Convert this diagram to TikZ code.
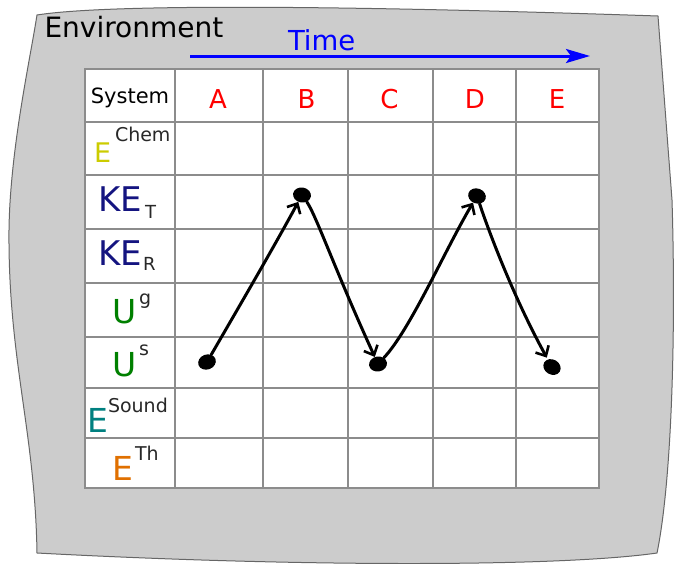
\documentclass[tikz,border=0pt]{standalone}
\usepackage{fontspec}
\setmainfont{DejaVu Sans}
\usetikzlibrary{arrows.meta,shapes.geometric}
\definecolor{envgray}{RGB}{204,204,204}
\definecolor{envline}{RGB}{102,102,102}
\definecolor{gridgray}{RGB}{140,140,140}
\definecolor{chemyellow}{RGB}{204,204,0}
\definecolor{kenavy}{RGB}{20,20,128}
\definecolor{ugreen}{RGB}{0,128,0}
\definecolor{soundteal}{RGB}{0,128,128}
\definecolor{thorange}{RGB}{224,112,0}
\definecolor{timeblue}{RGB}{0,0,255}
\definecolor{subgray}{RGB}{40,40,40}
\newcommand\setfs[1]{\fontsize{#1}{#1}\selectfont}
\begin{document}
\begin{tikzpicture}[x=1pt,y=-1pt,
  txt/.style={inner sep=0pt, outer sep=0pt, anchor=base west},
  ctxt/.style={inner sep=0pt, outer sep=0pt, anchor=base},
  gridline/.style={draw=gridgray, line width=1.2pt},
  dotnode/.style={ellipse, fill=black, minimum width=18pt, minimum height=15pt, inner sep=0pt},
  hand/.style={black, line width=3pt, line cap=round, line join=round, -{Straight Barb[length=8pt,width=15pt,line width=2.6pt]}},
  timearrow/.style={timeblue, line width=3pt, -{Stealth[length=24pt,width=14pt,inset=5pt]}}
]
\useasboundingbox (0,0) rectangle (674,563);
\fill[white] (0,0) rectangle (674,563);
% environment
\filldraw[fill=envgray, draw=envline, line width=1pt]
  (37,15) .. controls (100,5) and (300,4) .. (658,16)
  -- (672,200) .. controls (676,330) and (672,480) .. (657,553)
  .. controls (560,567) and (300,567) .. (37,553)
  .. controls (35,430) and (8,360) .. (9,230)
  .. controls (10,150) and (30,60) .. (37,15) -- cycle;
\node[txt] (env) at (44.5,37) {\setfs{28}Environment};
% time arrow
\node[txt, text=timeblue] (time) at (288,50) {\setfs{27.5}Time};
\coordinate (t0) at (190,56);
\coordinate (t1) at (590,56);
\draw[timearrow] (t0) -- (t1);
% table
\fill[white] (85,69) rectangle (599,488);
\foreach \yy in {122,175,229,283,337,388,438} \draw[gridline] (85,\yy) -- (599,\yy);
\foreach \xx in {175,263,348,433,516} \draw[gridline] (\xx,69) -- (\xx,488);
\draw[gridline] (85,69) rectangle (599,488);
% header
\node[ctxt] (sys) at (130,103) {\setfs{21}System};
\node[ctxt, text=red] (hA) at (218,108) {\setfs{26}A};
\node[ctxt, text=red] (hB) at (306.5,108) {\setfs{26}B};
\node[ctxt, text=red] (hC) at (389.5,108) {\setfs{26}C};
\node[ctxt, text=red] (hD) at (475,108) {\setfs{26}D};
\node[ctxt, text=red] (hE) at (557,108) {\setfs{26}E};
% row labels
\node[txt, text=chemyellow] (chemE) at (94,162) {\setfs{27}E};
\node[txt, text=subgray] (chemS) at (115,141) {\setfs{19}Chem};
\node[txt, text=kenavy] (ketE) at (98,211) {\setfs{34}KE};
\node[txt, text=subgray] (ketS) at (145,218) {\setfs{18}T};
\node[txt, text=kenavy] (kerE) at (98,265) {\setfs{34}KE};
\node[txt, text=subgray] (kerS) at (143,270) {\setfs{18}R};
\node[txt, text=ugreen] (ugE) at (112,323) {\setfs{33}U};
\node[txt, text=subgray] (ugS) at (139,304) {\setfs{19}g};
\node[txt, text=ugreen] (usE) at (112,376) {\setfs{33}U};
\node[txt, text=subgray] (usS) at (139,355) {\setfs{19}s};
\node[txt, text=soundteal] (sndE) at (87,432) {\setfs{33}E};
\node[txt, text=subgray] (sndS) at (108,412) {\setfs{19}Sound};
\node[txt, text=thorange] (thE) at (112,480) {\setfs{33}E};
\node[txt, text=subgray] (thS) at (135,460) {\setfs{19}Th};
% dots
\node[dotnode, rotate=20] (dA) at (207,362) {};
\node[dotnode, rotate=-10] (dB) at (302,195) {};
\node[dotnode, rotate=10] (dC) at (378,364) {};
\node[dotnode, rotate=-20] (dD) at (477,196) {};
\node[dotnode, rotate=-30] (dE) at (552,367) {};
% hand-drawn connectors
\draw[hand] (dA) .. controls (240,305) and (275,245) .. (dB);
\draw[hand] (dB) .. controls (316,215) and (335,270) .. (dC);
\draw[hand] (dC) .. controls (410,330) and (445,250) .. (dD);
\draw[hand, shorten >=2pt] (dD) .. controls (490,235) and (515,300) .. (dE);
\end{tikzpicture}
\end{document}
